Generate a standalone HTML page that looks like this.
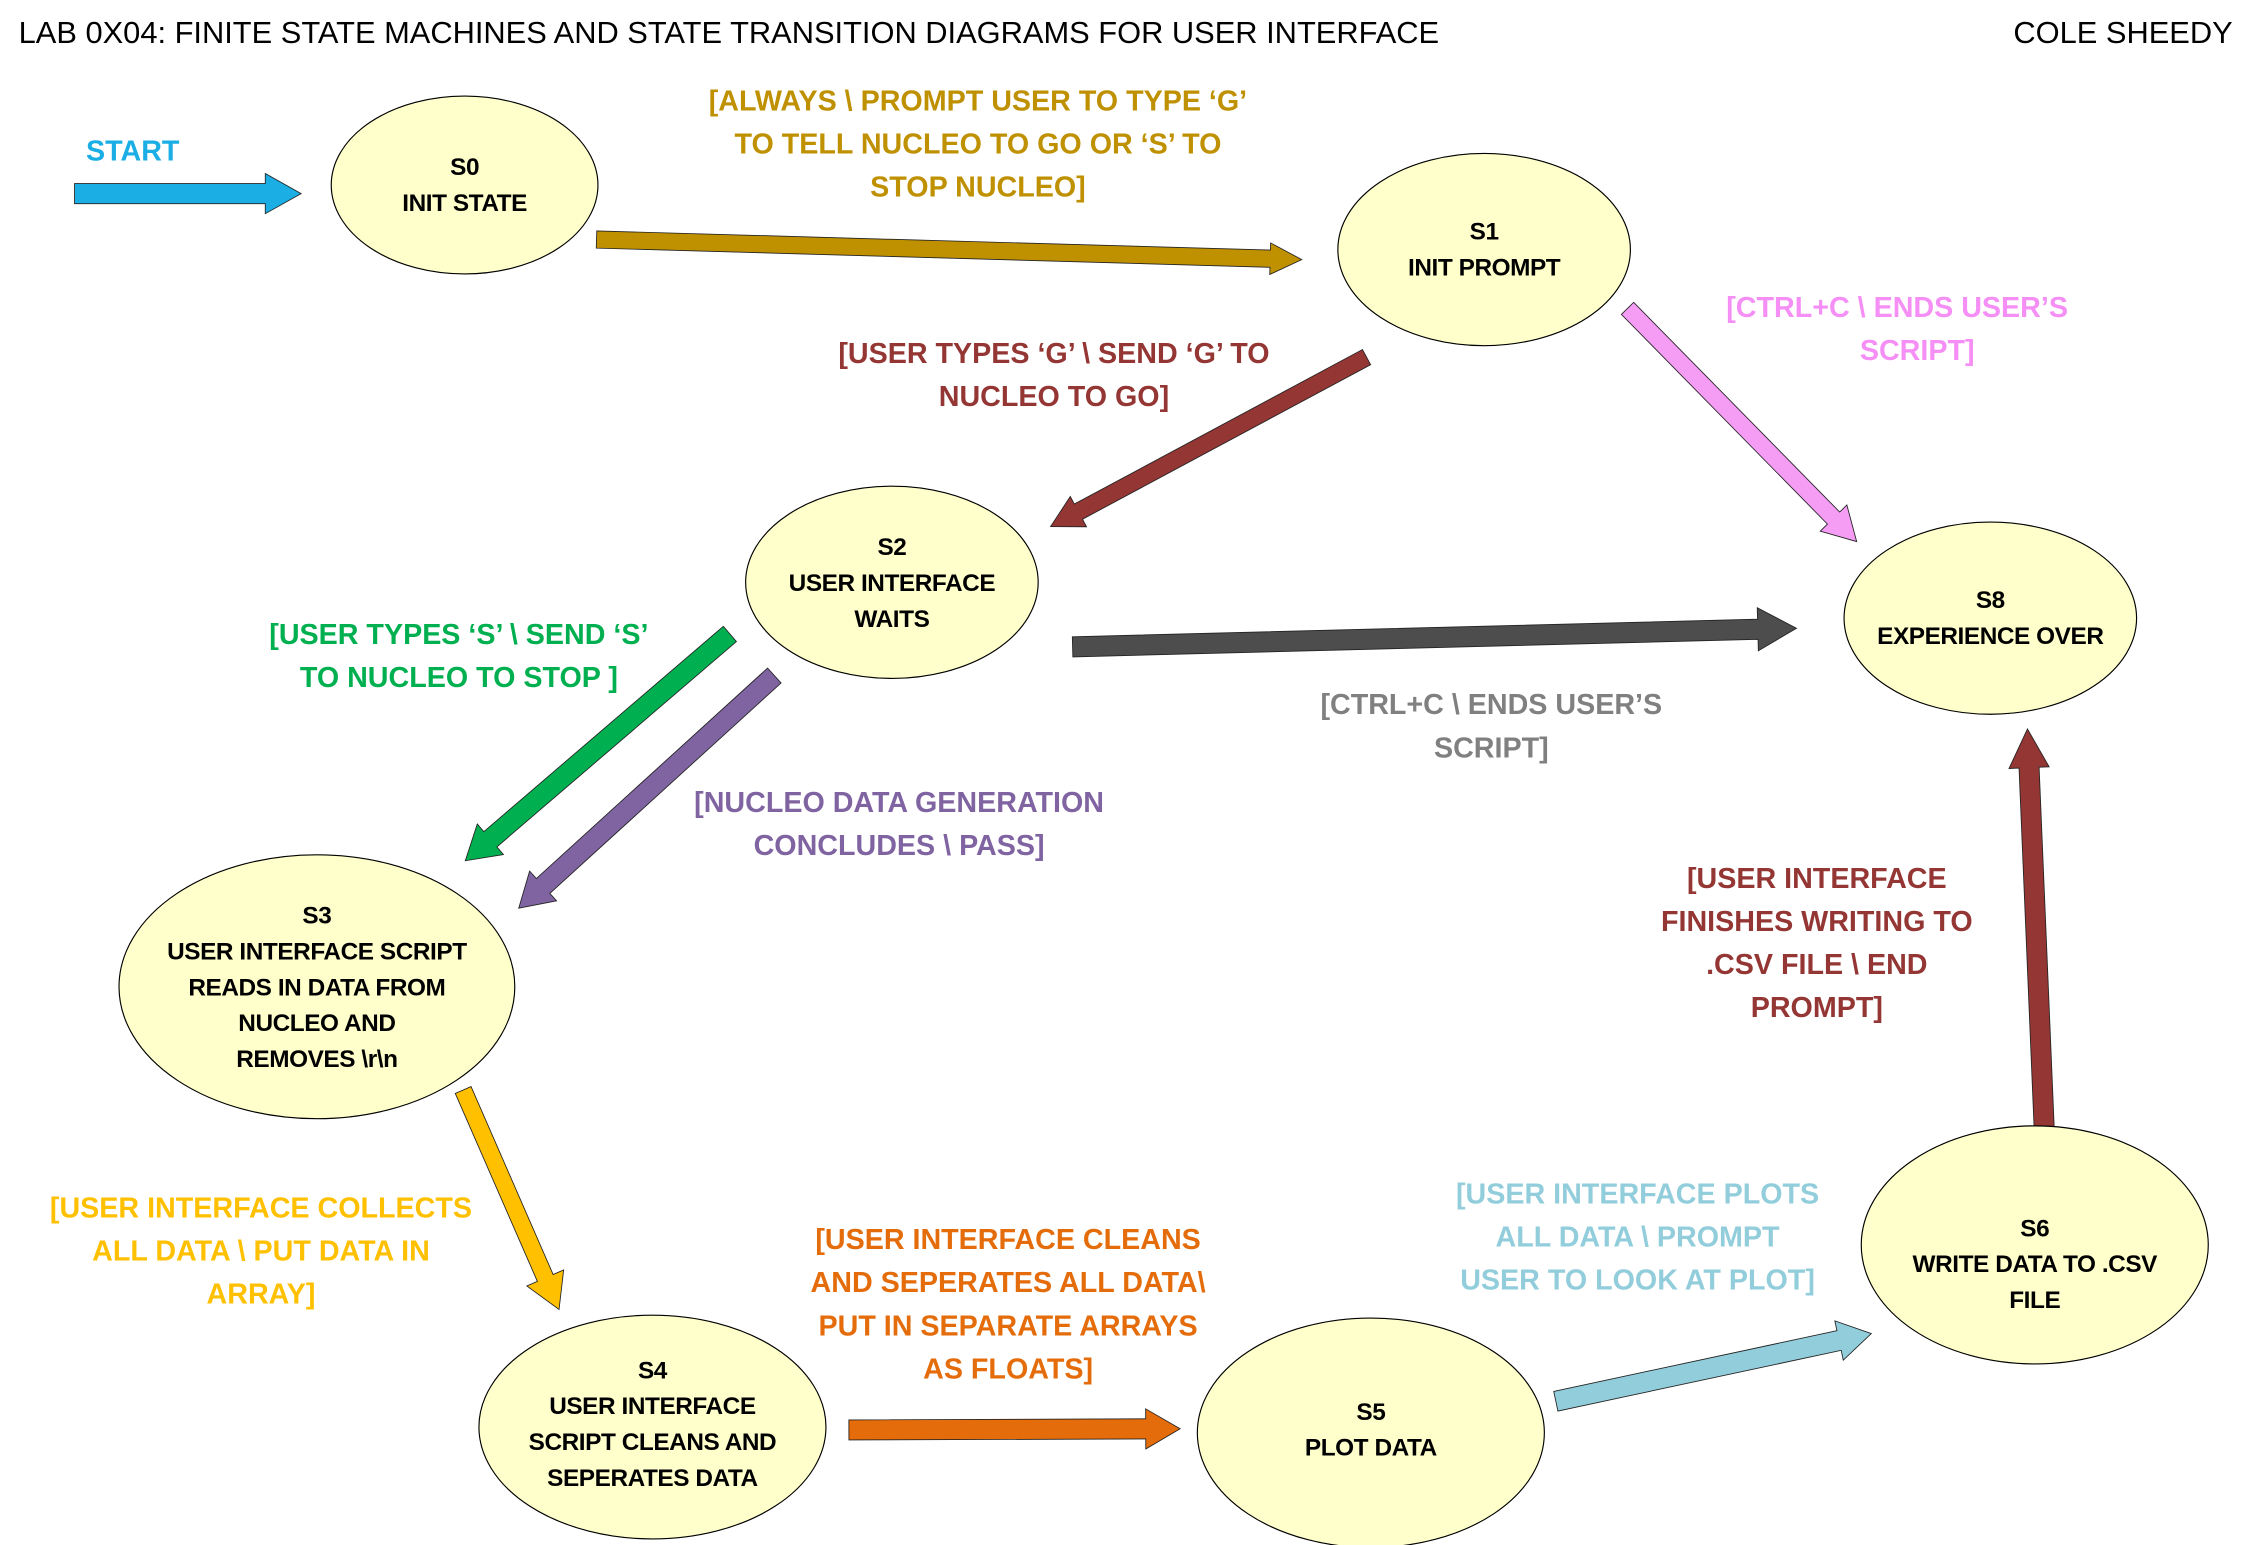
<!DOCTYPE html>
<html><head><meta charset="utf-8"><style>
html,body{margin:0;padding:0;background:#fff;}
svg{display:block;}
.t{font-family:"Liberation Sans",sans-serif;font-weight:bold;font-size:20px;letter-spacing:0px;text-anchor:middle;}
.s{font-family:"Liberation Sans",sans-serif;font-weight:bold;font-size:17px;letter-spacing:-0.3px;text-anchor:middle;fill:#000;}
ellipse{fill:#ffffcc;stroke:#000;stroke-width:0.8;}
polygon{stroke:#222;stroke-width:0.6;}
</style></head><body>
<svg width="2248" height="1545" viewBox="0 0 1563 1074" preserveAspectRatio="none" xmlns="http://www.w3.org/2000/svg">
<g transform="scale(0.997)">
<text x="13" y="30" font-family="Liberation Sans,sans-serif" font-size="21.5" fill="#000">LAB 0X04: FINITE STATE MACHINES AND STATE TRANSITION DIAGRAMS FOR USER INTERFACE</text>
<text x="1557" y="30" font-family="Liberation Sans,sans-serif" font-size="21.5" fill="#000" text-anchor="end">COLE SHEEDY</text>

<g transform="translate(52,135)"><polygon fill="#1aaee5" stroke="#1a5a9a" points="0,-7 133,-7 133,-14 158,0 133,14 133,7 0,7"/></g>
<g transform="translate(416,167) rotate(1.63)"><polygon fill="#bf9000" points="0,-6 470,-6 470,-11 492,0 470,11 470,6 0,6"/></g>
<g transform="translate(953,249) rotate(151.8)"><polygon fill="#943634" points="0,-6 228,-6 228,-12 250,0 228,12 228,6 0,6"/></g>
<g transform="translate(1135,215) rotate(45.5)"><polygon fill="#f59cf5" points="0,-6 205,-6 205,-13 228,0 205,13 205,6 0,6"/></g>
<g transform="translate(748,451) rotate(-1.47)"><polygon fill="#4d4d4d" points="0,-7 478,-7 478,-15 505,0 478,15 478,7 0,7"/></g>
<g transform="translate(509,442) rotate(139.4)"><polygon fill="#00b050" points="0,-7 220,-7 220,-14 243,0 220,14 220,7 0,7"/></g>
<g transform="translate(540,471) rotate(137.7)"><polygon fill="#8064a2" points="0,-7 218,-7 218,-14 241,0 218,14 218,7 0,7"/></g>
<g transform="translate(323,760) rotate(66.4)"><polygon fill="#ffc000" points="0,-6 143,-6 143,-14 167,0 143,14 143,6 0,6"/></g>
<g transform="translate(592,997) rotate(-0.2)"><polygon fill="#e46c0a" points="0,-7 207,-7 207,-14 231,0 207,14 207,7 0,7"/></g>
<g transform="translate(1085,977) rotate(-12.1)"><polygon fill="#92cddc" points="0,-7 202,-7 202,-14 225,0 202,14 202,7 0,7"/></g>
<g transform="translate(1426,797) rotate(-92.4)"><polygon fill="#943634" points="0,-7 262,-7 262,-14 289,0 262,14 262,7 0,7"/></g>

<ellipse cx="324" cy="129" rx="93" ry="62"/>
<text class="s"><tspan x="324" y="122">S0</tspan><tspan x="324" y="147">INIT STATE</tspan></text>
<ellipse cx="1035" cy="174" rx="102" ry="67"/>
<text class="s"><tspan x="1035" y="167">S1</tspan><tspan x="1035" y="192">INIT PROMPT</tspan></text>
<ellipse cx="622" cy="406" rx="102" ry="67"/>
<text class="s"><tspan x="622" y="387">S2</tspan><tspan x="622" y="412">USER INTERFACE</tspan><tspan x="622" y="437">WAITS</tspan></text>
<ellipse cx="1388" cy="431" rx="102" ry="67"/>
<text class="s"><tspan x="1388" y="424">S8</tspan><tspan x="1388" y="449">EXPERIENCE OVER</tspan></text>
<ellipse cx="221" cy="688" rx="138" ry="92"/>
<text class="s"><tspan x="221" y="644">S3</tspan><tspan x="221" y="669">USER INTERFACE SCRIPT</tspan><tspan x="221" y="694">READS IN DATA FROM</tspan><tspan x="221" y="719">NUCLEO AND</tspan><tspan x="221" y="744">REMOVES  \r\n</tspan></text>
<ellipse cx="455" cy="995" rx="121" ry="78"/>
<text class="s"><tspan x="455" y="961">S4</tspan><tspan x="455" y="986">USER INTERFACE</tspan><tspan x="455" y="1011">SCRIPT CLEANS AND</tspan><tspan x="455" y="1036">SEPERATES DATA</tspan></text>
<ellipse cx="956" cy="999" rx="121" ry="80"/>
<text class="s"><tspan x="956" y="990">S5</tspan><tspan x="956" y="1015">PLOT DATA</tspan></text>
<ellipse cx="1419" cy="868" rx="121" ry="83"/>
<text class="s"><tspan x="1419" y="862">S6</tspan><tspan x="1419" y="887">WRITE DATA TO .CSV</tspan><tspan x="1419" y="912">FILE</tspan></text>

<text x="60" y="112" font-family="Liberation Sans,sans-serif" font-weight="bold" font-size="20" fill="#1aaee5">START</text>
<text class="t" fill="#bf9000"><tspan x="682" y="77">[ALWAYS \ PROMPT USER TO TYPE ‘G’</tspan><tspan x="682" y="107">TO TELL NUCLEO TO GO OR ‘S’ TO</tspan><tspan x="682" y="137">STOP NUCLEO]</tspan></text>
<text class="t" fill="#943634"><tspan x="735" y="253">[USER TYPES ‘G’ \ SEND ‘G’ TO</tspan><tspan x="735" y="283">NUCLEO TO GO]</tspan></text>
<text class="t" fill="#f58ff5"><tspan x="1323" y="221">[CTRL+C \ ENDS USER’S</tspan><tspan x="1337" y="251">SCRIPT]</tspan></text>
<text class="t" fill="#808080"><tspan x="1040" y="498">[CTRL+C \ ENDS USER’S</tspan><tspan x="1040" y="528">SCRIPT]</tspan></text>
<text class="t" fill="#00b050"><tspan x="320" y="449">[USER TYPES ‘S’ \ SEND ‘S’</tspan><tspan x="320" y="479">TO NUCLEO TO STOP ]</tspan></text>
<text class="t" fill="#8064a2"><tspan x="627" y="566">[NUCLEO DATA GENERATION</tspan><tspan x="627" y="596">CONCLUDES \  PASS]</tspan></text>
<text class="t" fill="#ffc000"><tspan x="182" y="849">[USER INTERFACE COLLECTS</tspan><tspan x="182" y="879">ALL DATA \  PUT DATA IN</tspan><tspan x="182" y="909">ARRAY]</tspan></text>
<text class="t" fill="#e46c0a"><tspan x="703" y="871">[USER INTERFACE CLEANS</tspan><tspan x="703" y="901">AND SEPERATES ALL DATA\</tspan><tspan x="703" y="931">PUT IN SEPARATE ARRAYS</tspan><tspan x="703" y="961">AS FLOATS]</tspan></text>
<text class="t" fill="#92cddc"><tspan x="1142" y="839">[USER INTERFACE PLOTS</tspan><tspan x="1142" y="869">ALL DATA \  PROMPT</tspan><tspan x="1142" y="899">USER TO LOOK AT PLOT]</tspan></text>
<text class="t" fill="#943634"><tspan x="1267" y="619">[USER INTERFACE</tspan><tspan x="1267" y="649">FINISHES WRITING TO</tspan><tspan x="1267" y="679">.CSV FILE \  END</tspan><tspan x="1267" y="709">PROMPT]</tspan></text>
</g>
</svg>
</body></html>
